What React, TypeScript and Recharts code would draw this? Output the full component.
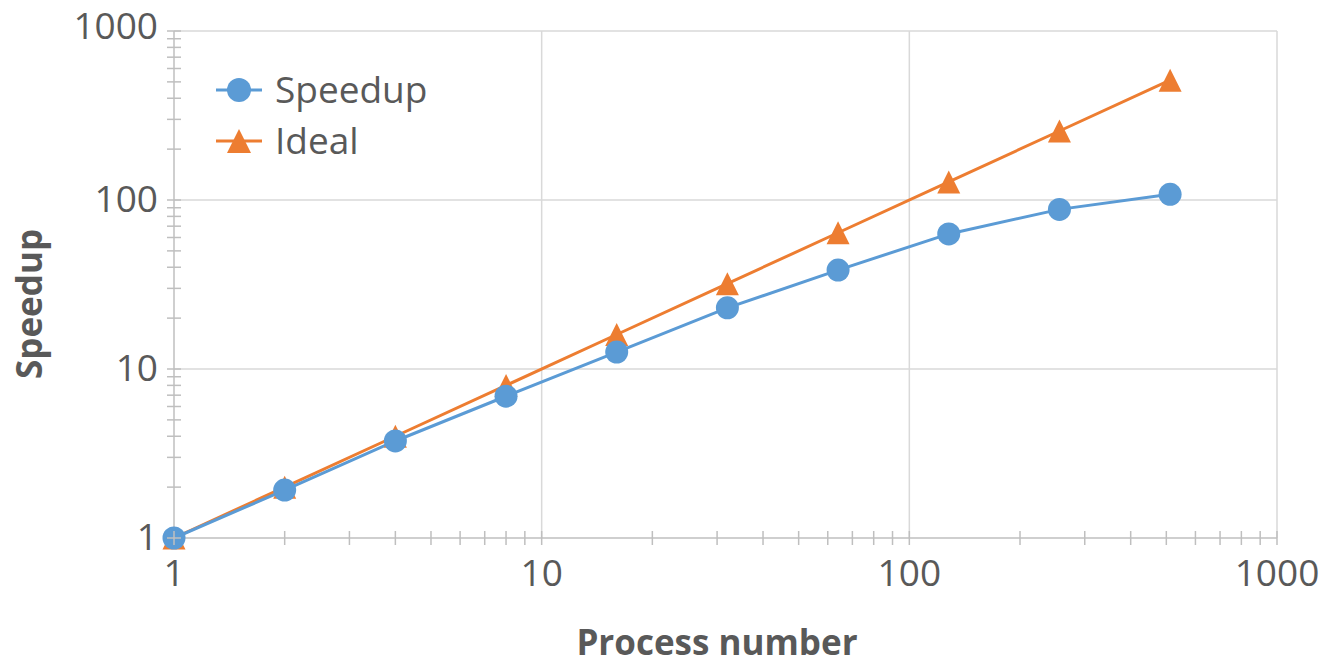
import React from 'react';
import { LineChart, Line, XAxis, YAxis, ReferenceLine, Legend, Label } from 'recharts';

const procs = [1, 2, 4, 8, 16, 32, 64, 128, 256, 512];
const speedup = [1, 1.92, 3.75, 6.9, 12.6, 23, 38.5, 63, 88, 108];
const ideal = [1, 2, 4, 8, 16, 32, 64, 128, 256, 512];

const decades = [1, 10, 100, 1000];
const logTicks = [
  1, 2, 3, 4, 5, 6, 7, 8, 9,
  10, 20, 30, 40, 50, 60, 70, 80, 90,
  100, 200, 300, 400, 500, 600, 700, 800, 900,
  1000,
];

const data = procs.map((p, i) => ({ procs: p, speedup: speedup[i], ideal: ideal[i] }));

const BLUE = '#5B9BD5';
const ORANGE = '#ED7D31';
const TEXT = '#595959';
const AXIS = '#bfbfbf';
const GRID = '#d9d9d9';
const FONT = '"Open Sans", "Liberation Sans", sans-serif';

const XTick = (props: any) => {
  const { x, y, payload } = props;
  const major = decades.includes(payload.value);
  return (
    <g>
      <line x1={x} x2={x} y1={y - 7} y2={y + 7} stroke={AXIS} strokeWidth={1.5} />
      {major && (
        <text x={x} y={y + 48} textAnchor="middle" fill={TEXT} fontSize={37} fontFamily={FONT}>
          {payload.value}
        </text>
      )}
    </g>
  );
};

const YTick = (props: any) => {
  const { x, y, payload } = props;
  const major = decades.includes(payload.value);
  // top label sits a little higher in the original
  const dy = payload.value === 1000 ? 8 : 12;
  return (
    <g>
      <line x1={x - 7} x2={x + 7} y1={y} y2={y} stroke={AXIS} strokeWidth={1.5} />
      {major && (
        <text x={x - 16} y={y + dy} textAnchor="end" fill={TEXT} fontSize={37} fontFamily={FONT}>
          {payload.value}
        </text>
      )}
    </g>
  );
};

const triangle = (cx: number, cy: number, s: number) =>
  `M${cx},${cy - s} L${cx + s},${cy + s} L${cx - s},${cy + s} Z`;

const CircleDot = (props: any) => {
  const { cx, cy, index } = props;
  return <circle key={`c${index}`} cx={cx} cy={cy} r={11.5} fill={BLUE} />;
};

const TriangleDot = (props: any) => {
  const { cx, cy, index } = props;
  return <path key={`t${index}`} d={triangle(cx, cy, 11.5)} fill={ORANGE} />;
};

const LegendBox = () => (
  <svg width={250} height={110}>
    <line x1={11} x2={57} y1={30} y2={30} stroke={BLUE} strokeWidth={3} />
    <circle cx={34} cy={30} r={12} fill={BLUE} />
    <text x={70} y={43} fill={TEXT} fontSize={37} fontFamily={FONT}>Speedup</text>
    <line x1={11} x2={57} y1={81} y2={81} stroke={ORANGE} strokeWidth={3} />
    <path d={triangle(34, 81, 12)} fill={ORANGE} />
    <text x={70} y={94} fill={TEXT} fontSize={37} fontFamily={FONT}>Ideal</text>
  </svg>
);

export default function App() {
  return (
    <div style={{ position: 'absolute', left: 0, top: 0, background: '#fff' }}>
      <LineChart
        width={1323}
        height={667}
        data={data}
        margin={{ top: 31, right: 46, bottom: 69, left: 0 }}
      >
        <XAxis
          type="number"
          dataKey="procs"
          scale="log"
          domain={[1, 1000]}
          ticks={logTicks}
          interval={0}
          tickSize={0}
          tickMargin={0}
          height={60}
          axisLine={{ stroke: AXIS, strokeWidth: 1.5 }}
          tick={<XTick />}
        >
          <Label
            content={() => (
              <text x={717} y={655} textAnchor="middle" fill={TEXT} fontSize={35} fontWeight="bold" fontFamily={FONT}>
                Process number
              </text>
            )}
          />
        </XAxis>
        <YAxis
          type="number"
          scale="log"
          domain={[1, 1000]}
          ticks={logTicks}
          interval={0}
          tickSize={0}
          tickMargin={0}
          width={174}
          axisLine={{ stroke: AXIS, strokeWidth: 1.5 }}
          tick={<YTick />}
        >
          <Label
            content={() => (
              <text
                x={42}
                y={304}
                transform="rotate(-90 42 304)"
                textAnchor="middle"
                fill={TEXT}
                fontSize={35}
                fontWeight="bold"
                fontFamily={FONT}
              >
                Speedup
              </text>
            )}
          />
        </YAxis>
        {[10, 100, 1000].map((v) => (
          <ReferenceLine key={`x${v}`} x={v} stroke={GRID} strokeWidth={1.5} />
        ))}
        {[10, 100, 1000].map((v) => (
          <ReferenceLine key={`y${v}`} y={v} stroke={GRID} strokeWidth={1.5} />
        ))}
        <Legend
          verticalAlign="middle"
          align="center"
          content={<LegendBox />}
          wrapperStyle={{ left: 205, top: 60, width: 250, height: 110 }}
        />
        <Line
          dataKey="ideal"
          name="Ideal"
          stroke={ORANGE}
          strokeWidth={3}
          dot={<TriangleDot />}
          activeDot={false}
          isAnimationActive={false}
        />
        <Line
          dataKey="speedup"
          name="Speedup"
          stroke={BLUE}
          strokeWidth={3}
          dot={<CircleDot />}
          activeDot={false}
          isAnimationActive={false}
        />
      </LineChart>
    </div>
  );
}
